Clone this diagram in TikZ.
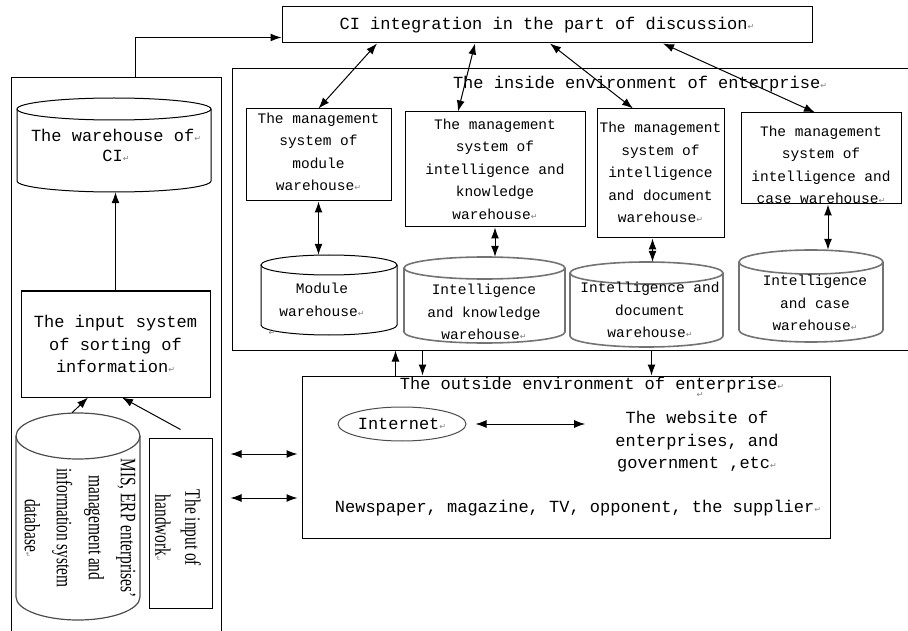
\documentclass[tikz,border=0pt]{standalone}
\usepackage{fontspec}
\usetikzlibrary{arrows.meta,shapes.geometric,calc}
\newfontfamily\monof{Liberation Mono}
\newfontfamily\seriff{Liberation Serif}
\newfontfamily\symf{DejaVu Sans}
% Word-style paragraph mark
\newcommand{\pmark}{{\symf\fontsize{8}{8}\selectfont\textcolor{black!50}{↵}}}

% Cylinder: [style]{name}{x left}{x right}{y top}{y bottom}{radius of the ellipse}
\newcommand{\warecyl}[7][cyl]{%
  \pgfmathsetmacro\wcx{(#3+#4)/2}%
  \pgfmathsetmacro\wrx{(#4-#3)/2}%
  \pgfmathsetmacro\wyc{#5+#7}%
  \pgfmathsetmacro\wyd{#6-#7}%
  \pgfmathsetmacro\wym{(#5+#6)/2}%
  \pgfmathsetmacro\wch{#6-#5}%
  \pgfmathsetmacro\wcw{#4-#3}%
  \draw[#1] (\wcx,\wyc) ellipse[x radius=\wrx pt, y radius=#7pt];
  \draw[#1] (#3,\wyc) -- (#3,\wyd) arc[start angle=180, end angle=360, x radius=\wrx pt, y radius=#7pt] -- (#4,\wyc);
  \node[inner sep=0, minimum width=\wcw pt, minimum height=\wch pt] (#2) at (\wcx,\wym) {};
}

\tikzset{
  box/.style={draw, line width=1pt, inner sep=0},
  bigtxt/.style={font=\monof\fontsize{17}{22.5}\selectfont, align=center, inner sep=0},
  smalltxt/.style={font=\monof\fontsize{14.5}{22.5}\selectfont, align=center, inner sep=0},
  rottxt/.style={font=\seriff\fontsize{22}{32}\selectfont, align=center, inner sep=0, rotate=-90, xscale=0.7},
  arr/.style={line width=1pt, -{Latex[length=11pt,width=8pt]}},
  darr/.style={line width=1pt, {Latex[length=11pt,width=8pt]}-{Latex[length=11pt,width=8pt]}},
  cyl/.style={line width=1pt},
  gcyl/.style={line width=1.6pt, draw=black!55},
  dcyl/.style={line width=1.2pt, draw=black!70},
}

\begin{document}
\begin{tikzpicture}[x=1pt,y=-1pt]
\useasboundingbox (0,0) rectangle (908,631);
\clip (0,0) rectangle (908,631);

% integration box at the top
\node[box, bigtxt, minimum width=530pt, minimum height=36pt] (ci) at (547,25) {CI integration in the part of discussion\pmark};

% left column
\node[box, minimum width=210pt, minimum height=600pt] (lbox) at (116,378) {};
\warecyl{wci}{17}{211}{98}{192}{11}
\node[bigtxt, font=\monof\fontsize{17}{20}\selectfont] (wcit) at (116,145) {The warehouse of\pmark\\CI\pmark};
\node[box, bigtxt, minimum width=189pt, minimum height=106pt] (inp) at (115.5,344) {The input system\\of sorting of\\information\pmark};
\draw[arr] (inp.north) -- (inp.north |- wci.south);

\warecyl[dcyl]{db}{16}{140}{413}{620}{23}
\node[rottxt] (dbt) at (80,528) {MIS, ERP enterprises’\\management and\\information system\\database\pmark};
\node[box, minimum width=63pt, minimum height=170pt] (hw) at (180.5,523) {};
\node[rottxt, font=\seriff\fontsize{22}{30}\selectfont] (hwt) at (178,528) {The input of\\handwork\pmark};
\draw[arr] ([xshift=-6pt]db.north) -- ([xshift=-27.5pt]inp.south);
\draw[arr] ([yshift=8pt]hw.north) -- ([xshift=6.5pt]inp.south);

\draw[arr] ([xshift=125pt]lbox.north west) |- ([yshift=6pt]ci.south west);

% inside environment
\node[box, minimum width=690pt, minimum height=281pt] (ins) at (577,209.5) {};
\node[bigtxt] (inst) at (640,84) {The inside environment of enterprise\pmark};

\node[box, minimum width=145pt, minimum height=92pt] (ma) at (318.5,155) {};
\node[smalltxt] (mat) at (318.5,152) {The management\\system of\\module\\warehouse\pmark};
\node[box, minimum width=180pt, minimum height=115pt] (mb) at (495,169.5) {};
\node[smalltxt] (mbt) at (495,169) {The management\\system of\\intelligence and\\knowledge\\warehouse\pmark};
\node[box, minimum width=127pt, minimum height=129pt] (mc) at (660.5,173.5) {};
\node[smalltxt] (mct) at (660.5,172.5) {The management\\system of\\intelligence\\and document\\warehouse\pmark};
\node[box, minimum width=160pt, minimum height=91pt] (md) at (821,158.5) {};
\node[smalltxt] (mdt) at (821,165) {The management\\system of\\intelligence and\\case warehouse\pmark};

\warecyl{ca}{261}{397}{255}{335}{10}
\node[smalltxt] (cat) at (322,300) {Module\\warehouse\pmark};
\node[inner sep=0] (cam) at (272,333) {\pmark};
\warecyl[gcyl]{cb}{404}{565}{257}{343}{11}
\node[smalltxt] (cbt) at (484,312) {Intelligence\\and knowledge\\warehouse\pmark};
\warecyl[gcyl]{cc}{570}{723}{262}{347}{11}
\node[smalltxt] (cct) at (650,310) {Intelligence and\\document\\warehouse\pmark};
\warecyl[gcyl]{cd}{739}{883}{250}{342}{12}
\node[smalltxt] (cdt) at (815,303) {Intelligence\\and case\\warehouse\pmark};

\draw[darr] ([xshift=-170pt]ci.south) -- (ma.north);
\draw[darr] ([xshift=-72pt]ci.south) -- ([xshift=-37pt]mb.north);
\draw[darr] ([xshift=3pt]ci.south) -- ([xshift=-27.5pt]mc.north);
\draw[darr] ([xshift=116pt]ci.south) -- ([xshift=-6pt]md.north);

\draw[darr] (ma.south) -- (ma.south |- ca.north);
\draw[darr] (mb.south) -- (mb.south |- cb.north);
\draw[darr] ([xshift=-8pt]mc.south) -- ([xshift=-8pt]mc.south |- cc.north);
\draw[darr] ([xshift=7pt]md.south) -- ([xshift=7pt]md.south |- cd.north);

% outside environment
\node[box, minimum width=528pt, minimum height=162pt] (out) at (566,457) {};
\node[bigtxt] (outt) at (592,385) {The outside environment of enterprise\pmark};
\node[inner sep=0] (outm) at (700,395) {\pmark};
\node[draw, ellipse, line width=1pt, draw=black!70, minimum width=128pt, minimum height=34pt, bigtxt] (inet) at (402,424) {Internet\pmark};
\node[bigtxt] (web) at (697,442) {The website of\\enterprises, and\\government ,etc\pmark};
\draw[darr] ([xshift=9pt]inet.east) -- ([xshift=-30pt]inet.east -| web.west);
\node[bigtxt] (news) at (578,508) {Newspaper, magazine, TV, opponent, the supplier\pmark};

\draw[arr] ([xshift=94pt]out.north west) -- ([xshift=94pt]out.north west |- ins.south);
\draw[arr] ([xshift=121pt]out.north west |- ins.south) -- ([xshift=121pt]out.north west);
\draw[arr] ([xshift=350pt]out.north west |- ins.south) -- ([xshift=350pt]out.north west);

\draw[darr] ([xshift=9pt,yshift=3pt]lbox.east |- out.west) -- ([xshift=-4pt,yshift=3pt]out.west);
\draw[darr] ([xshift=9pt,yshift=-41pt]lbox.east |- out.west) -- ([xshift=-4pt,yshift=-41pt]out.west);
\end{tikzpicture}
\end{document}
